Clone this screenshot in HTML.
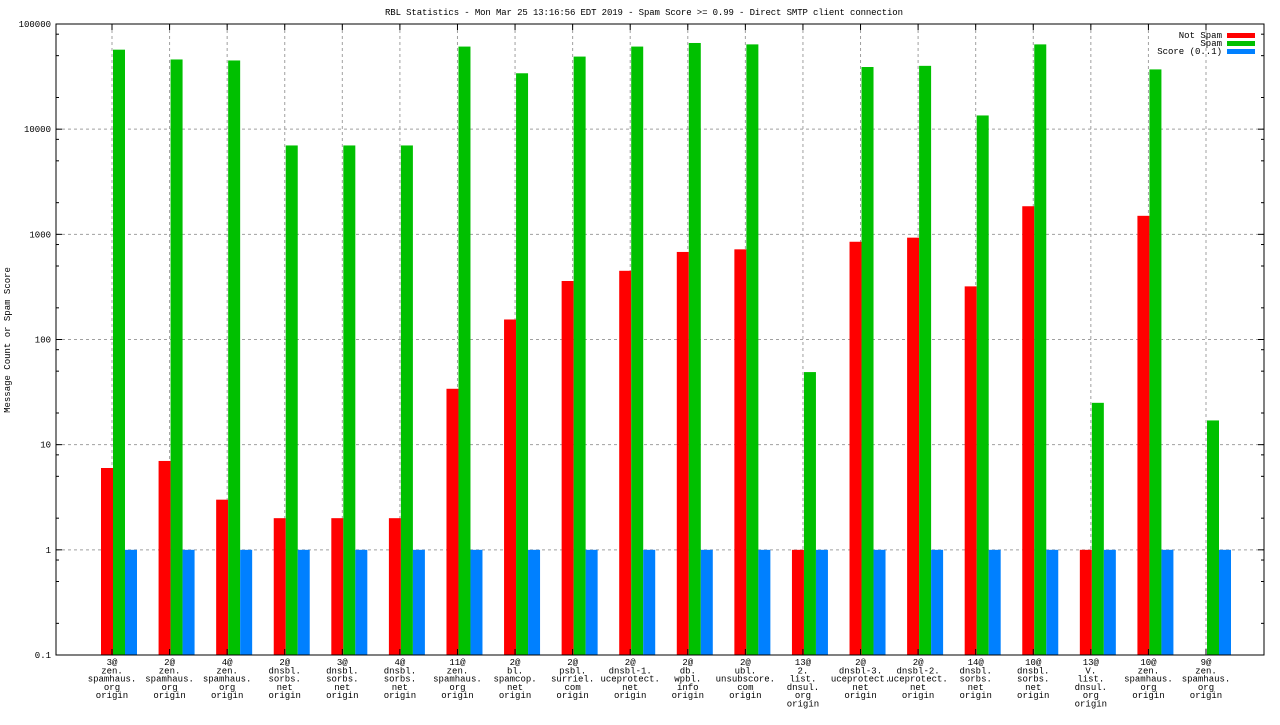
<!DOCTYPE html>
<html><head><meta charset="utf-8"><style>
body{margin:0;background:#fff}
svg text{font-family:"Liberation Mono","DejaVu Sans Mono",monospace;font-size:9px;fill:#000}
</style></head><body>
<svg id="chart" width="1280" height="720" xmlns="http://www.w3.org/2000/svg">
<text x="644" y="15" text-anchor="middle" textLength="518">RBL Statistics - Mon Mar 25 13:16:56 EDT 2019 - Spam Score &gt;= 0.99 - Direct SMTP client connection</text>
<text transform="translate(10,340) rotate(-90)" text-anchor="middle">Message Count or Spam Score</text>
<g id="grid"></g>
<g id="bars"></g>
<g id="axes"></g>
<g>
<text x="1222" y="38" text-anchor="end">Not Spam</text>
<rect x="1227" y="33" width="28" height="5" fill="#ff0000"/>
<text x="1222" y="46" text-anchor="end">Spam</text>
<rect x="1227" y="41" width="28" height="5" fill="#00c000"/>
<text x="1222" y="54" text-anchor="end">Score (0..1)</text>
<rect x="1227" y="49" width="28" height="5" fill="#0080ff"/>
</g>
</svg>
<script>
const categories=[["3@","zen.","spamhaus.","org","origin"],["2@","zen.","spamhaus.","org","origin"],["4@","zen.","spamhaus.","org","origin"],["2@","dnsbl.","sorbs.","net","origin"],["3@","dnsbl.","sorbs.","net","origin"],["4@","dnsbl.","sorbs.","net","origin"],["11@","zen.","spamhaus.","org","origin"],["2@","bl.","spamcop.","net","origin"],["2@","psbl.","surriel.","com","origin"],["2@","dnsbl-1.","uceprotect.","net","origin"],["2@","db.","wpbl.","info","origin"],["2@","ubl.","unsubscore.","com","origin"],["13@","2.","list.","dnsul.","org","origin"],["2@","dnsbl-3.","uceprotect.","net","origin"],["2@","dnsbl-2.","uceprotect.","net","origin"],["14@","dnsbl.","sorbs.","net","origin"],["10@","dnsbl.","sorbs.","net","origin"],["13@","V.","list.","dnsul.","org","origin"],["10@","zen.","spamhaus.","org","origin"],["9@","zen.","spamhaus.","org","origin"]];
const notSpam=[6,7,3,2,2,2,34,155,360,450,680,720,1,850,930,320,1850,1,1500,null];
const spam=[57000,46000,45000,7000,7000,7000,61000,34000,49000,61000,66000,64000,49,39000,40000,13500,64000,25,37000,17];
const score=[1,1,1,1,1,1,1,1,1,1,1,1,1,1,1,1,1,1,1,1];
const yTicks=[0.1,1,10,100,1000,10000,100000];
const yTickLabels=["0.1","1","10","100","1000","10000","100000"];
const NS="http://www.w3.org/2000/svg";
const L=56,R=1264,T=24,B=655;
const first=112,last=1206;
const slot=(last-first)/(categories.length-1);
function y(v){return B-(Math.log10(v)+1)/6*(B-T);}
function x(i){return first+i*slot;}
function mk(tag,parent,attrs){const e=document.createElementNS(NS,tag);for(const k in attrs)e.setAttribute(k,attrs[k]);parent.appendChild(e);return e;}
const grid=document.getElementById('grid'),bars=document.getElementById('bars'),axes=document.getElementById('axes');
yTicks.forEach((t,i)=>{const yy=y(t);
 if(i>0&&i<yTicks.length-1){const g=mk('line',grid,{x1:L,x2:R,y1:yy,y2:yy,stroke:'#a0a0a0','stroke-dasharray':'3,3'});}
 const tk=mk('line',axes,{x1:L,x2:L+6,y1:yy,y2:yy,stroke:'#000'});
 const tk2=mk('line',axes,{x1:R-6,x2:R,y1:yy,y2:yy,stroke:'#000'});
 const tx=mk('text',axes,{x:L-5,y:yy+3,'text-anchor':'end'});tx.textContent=yTickLabels[i];
 if(i<yTicks.length-1){[2,5,8].forEach(m=>{const my=y(t*m);const mt=mk('line',axes,{x1:L,x2:L+3,y1:my,y2:my,stroke:'#000'});const mt2=mk('line',axes,{x1:R-3,x2:R,y1:my,y2:my,stroke:'#000'});});}
});
categories.forEach((c,i)=>{const cx=x(i);
 const g=mk('line',grid,{x1:cx,x2:cx,y1:T,y2:B,stroke:'#a0a0a0','stroke-dasharray':'3,3'});
 const tk=mk('line',axes,{x1:cx,x2:cx,y1:B-6,y2:B,stroke:'#000'});
 const tk2=mk('line',axes,{x1:cx,x2:cx,y1:T,y2:T+6,stroke:'#000'});
 const tx=mk('text',axes,{x:cx,y:B+10,'text-anchor':'middle'});
 c.forEach((ln,j)=>{const ts=mk('tspan',tx,{x:cx,dy:j?8.3:0});ts.textContent=ln;});
 [[notSpam,'#ff0000',-11,'bar-not-spam'],[spam,'#00c000',1,'bar-spam'],[score,'#0080ff',13,'bar-score']].forEach(([arr,col,off,nm])=>{const v=arr[i];if(v==null)return;
  const yy=y(v);const r=mk('rect',bars,{x:cx+off,y:yy,width:12,height:B-yy,fill:col});});
});
const fr=mk('rect',axes,{x:L,y:T,width:R-L,height:B-T,fill:'none',stroke:'#000'});
</script>
</body></html>
